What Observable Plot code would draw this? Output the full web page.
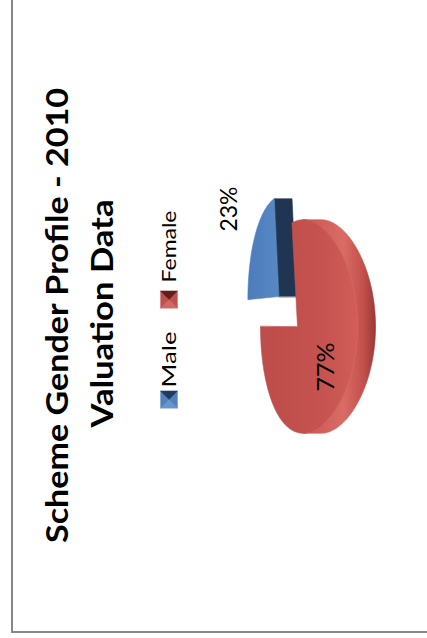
<!DOCTYPE html>
<html><head><meta charset="utf-8">
<script src="https://cdn.jsdelivr.net/npm/d3@7"></script>
<script src="https://cdn.jsdelivr.net/npm/@observablehq/plot@0.6"></script>
<style>
html,body{margin:0;padding:0;background:#fff;overflow:hidden;width:427px;height:638px;}
#rot{position:absolute;left:0;top:0;width:638px;height:427px;transform-origin:0 0;transform:translate(0,638px) rotate(-90deg);overflow:hidden;background:#fff;}
#frame{position:absolute;left:5px;top:11px;width:700px;height:500px;border-left:2px solid #878787;border-top:2px solid #878787;}
#chart{position:absolute;left:0;top:0;}
</style></head><body>
<div id="rot"><div id="frame"></div><div id="chart"></div></div>
<script>
// ---- data ----
const titleLines = ["Scheme Gender Profile - 2010", "Valuation Data"];
const categories = ["Male", "Female"];
const values = [23, 77];
const percentLabels = ["23%", "77%"];

// ---- style / layout ----
const W = 638, H = 427;
const palette = {
  Male:   {top: "url(#gMaleTop)", side: "#1f3552", face: "#1f3552", light: "#6b95c9", dark: "#203a5e", sq: "#4f81bd"},
  Female: {top: "url(#gFemTop)", side: "url(#gFemWall)", face: "#8c3532", light: "#cf6966", dark: "#5c1f1e", sq: "#c0504d"}
};
// perspective-ish 3D pie projection parameters
const G = {cx: 311, cy: 297, a: 106, b: 45.8, k: 0.237, ku: 0.12, d: 18};
const sliceStyle = [
  {eu: 0.45, ev: 0.61, lr: 1.55, ldy: -14},
  {eu: 0, ev: 0, lr: 0.55, ldy: 8}
];

function proj(p, q, z) {
  return [G.cx + G.a * p / (1 + G.ku * q), G.cy - G.b * q / (1 + G.k * q) + z];
}

const arcs = d3.pie().sort(null).value(d => d)(values);
const slices = arcs.map((pa, i) => {
  const s = sliceStyle[i];
  const mid = (pa.startAngle + pa.endAngle) / 2;
  const P = s.eu * Math.sin(mid), Q = s.ev * Math.cos(mid);
  return {cat: categories[i], label: percentLabels[i], t0: pa.startAngle, t1: pa.endAngle, mid, P, Q, s};
});

const rimPt = (sl, t, z, r = 1) => proj(sl.P + r * Math.sin(t), sl.Q + r * Math.cos(t), z);
const polys = [];
function addPoly(key, color, pts) { pts.forEach(([x, y], k) => polys.push({key, color, x, y, k})); }
const N = 240;
function arcPts(sl, t0, t1, z) {
  const n = Math.max(2, Math.ceil(N * (t1 - t0) / (2 * Math.PI)));
  return d3.range(n + 1).map(j => rimPt(sl, t0 + (t1 - t0) * j / n, z));
}

const order = slices.slice().sort((A, B) => B.Q - A.Q); // back slices first
for (const sl of order) {
  const c = palette[sl.cat];
  const ts = Math.acos(-G.ku / (1 + G.ku * sl.Q));
  const w0 = Math.max(sl.t0, ts), w1 = Math.min(sl.t1, 2 * Math.PI - ts);
  if (w1 > w0) {
    addPoly(sl.cat + "-wall", c.side, [...arcPts(sl, w0, w1, 0), ...arcPts(sl, w0, w1, G.d).reverse()]);
  }
  for (const [t, sign] of [[sl.t1, 1], [sl.t0, -1]]) {
    if (sign * Math.sin(t) > 0.01) {
      const c0 = proj(sl.P, sl.Q, 0), c1 = proj(sl.P, sl.Q, G.d);
      addPoly(sl.cat + "-face" + sign, c.face, [c0, rimPt(sl, t, 0), rimPt(sl, t, G.d), c1]);
    }
  }
  addPoly(sl.cat + "-top", c.top, [proj(sl.P, sl.Q, 0), ...arcPts(sl, sl.t0, sl.t1, 0)]);
}

const labels = slices.map(sl => {
  const [x, y] = rimPt(sl, sl.mid, 0, sl.s.lr);
  return {text: sl.label, x, y: y + sl.s.ldy};
});

// legend
const legendPos = [238, 338];
const legendY = 168.5, half = 8.5;
const legend = categories.map((cat, i) => ({cat, x: legendPos[i]}));
const legendPolys = [];
legend.forEach(L => {
  const c = palette[L.cat];
  const x0 = L.x - half, x1 = L.x + half, y0 = legendY - half, y1 = legendY + half;
  const add = (key, color, pts) => pts.forEach(([x, y], k) => legendPolys.push({key: L.cat + key, color, x, y, k}));
  add("sq", c.sq, [[x0, y0], [x1, y0], [x1, y1], [x0, y1]]);
  add("lt", c.light, [[x0, y0], [L.x, legendY], [x0, y1]]);
  add("dk", c.dark, [[x1, y0], [L.x, legendY], [x1, y1]]);
});

const titleData = titleLines.map((t, i) => ({text: t, x: [322, 324][i], y: [57.4, 102.4][i]}));
const lengths = {"Scheme Gender Profile - 2010": 455, "Valuation Data": 228, "Male": 56, "Female": 72, "23%": 45, "77%": 49};

const chart = Plot.plot({
  width: W, height: H, margin: 0,
  x: {domain: [0, W], range: [0, W], axis: null},
  y: {domain: [0, H], range: [0, H], axis: null},
  color: {type: "identity"},
  style: {background: "transparent"},
  marks: [
    Plot.line(polys, {x: "x", y: "y", z: "key", fill: "color", stroke: "color", strokeWidth: 0.6, curve: "linear-closed"}),
    Plot.line(legendPolys, {x: "x", y: "y", z: "key", fill: "color", stroke: "color", strokeWidth: 0.3, curve: "linear-closed"}),
    Plot.text(titleData, {x: "x", y: "y", text: "text", fontFamily: "Lato", fontWeight: "bold", fontSize: 30, fill: "#000", textAnchor: "middle"}),
    Plot.text(legend, {x: d => d.x + 12 + (d.cat === "Female" ? 5 : 0), y: () => legendY + 0.1, text: "cat", fontFamily: "Lato", fontSize: 20, fill: "#000", textAnchor: "start"}),
    Plot.text(labels, {x: "x", y: "y", text: "text", fontFamily: "Lato", fontSize: 23, fill: "#000", textAnchor: "middle"})
  ]
});
// gradients for the 3D shading
const defs = d3.select(chart).insert("defs", ":first-child");
function grad(id, x1, y1, x2, y2, stops) {
  const g = defs.append("linearGradient").attr("id", id).attr("gradientUnits", "userSpaceOnUse")
    .attr("x1", x1).attr("y1", y1).attr("x2", x2).attr("y2", y2);
  stops.forEach(([o, c]) => g.append("stop").attr("offset", o).attr("stop-color", c));
}
grad("gFemTop", 0, 258, 0, 360, [[0, "#bd4d4a"], [0.6, "#c5524f"], [1, "#d35e59"]]);
grad("gFemWall", 0, 300, 0, 378, [[0, "#c9554f"], [0.55, "#d96b65"], [0.8, "#c4504c"], [1, "#8e3431"]]);
grad("gMaleTop", 0, 245, 0, 282, [[0, "#4a7cb9"], [1, "#5a8ac6"]]);

d3.select(chart).selectAll("text").each(function() {
  const L = lengths[this.textContent];
  if (L) { this.setAttribute("textLength", L); this.setAttribute("lengthAdjust", "spacingAndGlyphs"); }
});
document.getElementById("chart").appendChild(chart);
</script>
</body></html>
